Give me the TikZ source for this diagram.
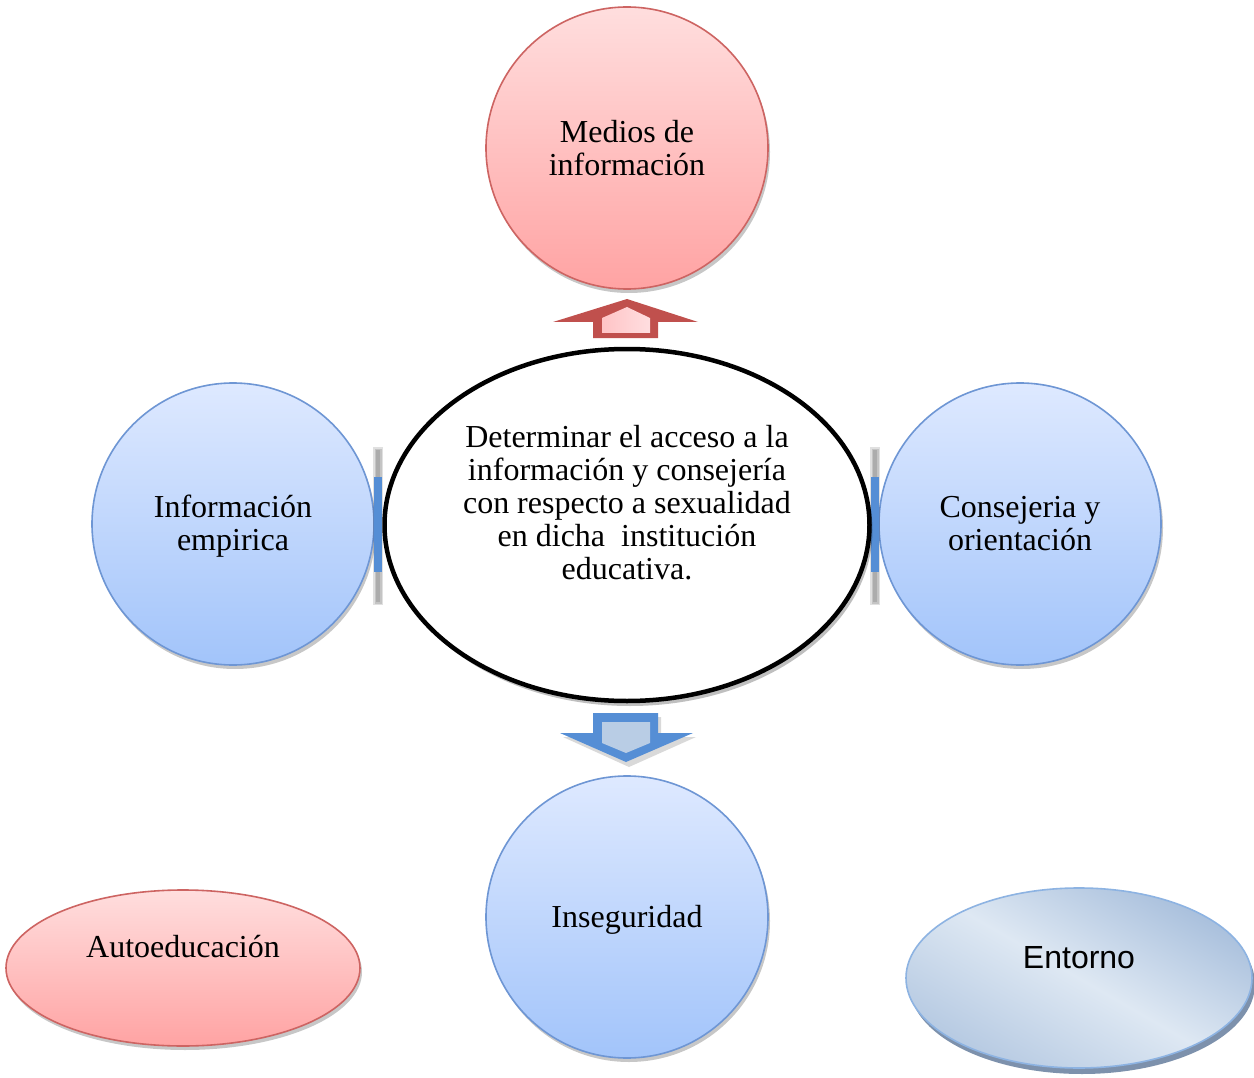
\documentclass[tikz,border=0pt]{standalone}
\usepackage{fontspec}
\setmainfont{Liberation Serif}
\newfontfamily\arialfont{Liberation Sans}
\usetikzlibrary{shapes.geometric,shadows}
\definecolor{rbord}{RGB}{205,100,98}
\definecolor{rtop}{RGB}{255,222,222}
\definecolor{rbot}{RGB}{255,163,163}
\definecolor{bbord}{RGB}{110,150,212}
\definecolor{btop}{RGB}{222,233,255}
\definecolor{bbot}{RGB}{162,196,250}
\definecolor{arrred}{RGB}{192,80,77}
\definecolor{arrpinkl}{RGB}{255,196,198}
\definecolor{arrpinkr}{RGB}{255,222,224}
\definecolor{arrblue}{RGB}{85,142,213}
\definecolor{arrblueint}{RGB}{185,205,229}
\definecolor{entlight}{RGB}{222,232,243}
\definecolor{entdark}{RGB}{168,191,220}
\definecolor{entrim}{RGB}{125,145,172}
\definecolor{entbord}{RGB}{141,179,226}
\tikzset{
  txtfont/.style={font=\fontsize{32}{33}\selectfont},
  softshadow/.style={drop shadow={shadow xshift=2pt,shadow yshift=-4pt,opacity=0.22,fill=black}},
  redcirc/.style={circle,minimum size=282pt,inner sep=0pt,draw=rbord,line width=1.6pt,
     top color=rtop,bottom color=rbot,softshadow,txtfont,align=center},
  bluecirc/.style={circle,minimum size=282pt,inner sep=0pt,draw=bbord,line width=1.6pt,
     top color=btop,bottom color=bbot,softshadow,txtfont,align=center},
  label/.style={txtfont,align=center,inner sep=0pt},
  blurbar/.style={fill=black,opacity=0.12},
}
\begin{document}
\begin{tikzpicture}[x=1pt,y=-1pt]
\useasboundingbox (0,0) rectangle (1254,1078);
\fill[white] (0,0) rectangle (1254,1078);

% circles
\node[redcirc] (medios) at (627,148) {Medios de\\información};
\node[bluecirc] (empirica) at (233,524) {};
\node[label] (empiricatxt) at (233,526) {Información\\empirica};
\node[bluecirc] (consejeria) at (1020,524) {Consejeria y\\orientación};
\node[bluecirc] (inseguridad) at (627,917) {};
\node[label] (insegtxt) at (627,920) {Inseguridad};

% side connector bars (blurred grey shadow + blue bar)
\foreach \d in {0,1.5,3}{
  \fill[blurbar] (373+\d,447+\d) rectangle (383-\d,605-\d);
  \fill[blurbar] (870+\d,447+\d) rectangle (880-\d,605-\d);
}
\fill[arrblue] (374,477) rectangle (382,572);
\fill[arrblue] (871,477) rectangle (879,572);

% central ellipse
\node[ellipse,draw=black,line width=4.5pt,fill=white,minimum width=485pt,minimum height=352pt,
  drop shadow={shadow xshift=3pt,shadow yshift=-5pt,opacity=0.25,fill=black}] (center) at (627,525) {};
\node[label] (centertxt) at (627,503) {Determinar el acceso a la\\información y consejería\\con respecto a sexualidad\\en dicha\ \ institución\\educativa.};

% up arrow (red)
\fill[arrred] (627,299) -- (698,322) -- (658,322) -- (658,338) -- (593,338) -- (593,322) -- (553,322) -- cycle;
\shade[left color=arrpinkl, right color=arrpinkr]
  (602,333) -- (602,318) -- (627,307) -- (650,318) -- (650,333) -- cycle;

% down arrow (blue)
\fill[black,opacity=0.15] (596,717) -- (661,717) -- (661,737) -- (696,737) -- (629,767) -- (563,737) -- (596,737) -- cycle;
\fill[arrblue] (593,713) -- (658,713) -- (658,733) -- (693,733) -- (626,762) -- (560,733) -- (593,733) -- cycle;
\fill[arrblueint] (602,722) -- (650,722) -- (650,743) -- (626,753) -- (602,743) -- cycle;

% Autoeducacion
\node[ellipse,draw=rbord,line width=1.6pt,top color=rtop,bottom color=rbot,minimum width=354pt,
  minimum height=156pt,softshadow] (auto) at (183,968) {};
\node[label] (autotxt) at (183,947) {Autoeducación};

% Entorno
\fill[entrim] (1082,984) ellipse [x radius=173pt,y radius=90pt];
\node[ellipse,draw=entbord,line width=1.6pt,shading=axis,top color=entdark,
  bottom color=entdark!75!entlight,middle color=entlight,shading angle=-30,
  minimum width=346pt,minimum height=180pt] (entorno) at (1079,978) {};
\node[label,font=\arialfont\fontsize{32}{33}\selectfont] (entornotxt) at (1079,958) {Entorno};
\end{tikzpicture}
\end{document}
